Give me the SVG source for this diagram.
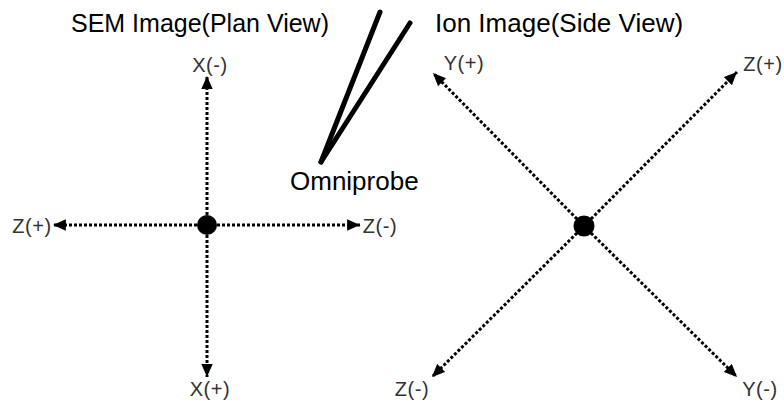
<svg xmlns="http://www.w3.org/2000/svg" width="784" height="404" viewBox="0 0 784 404">
<style>
.title{font-family:"Liberation Sans",Arial,sans-serif;font-size:25px;fill:#000}
.lbl{font-family:"Liberation Sans",Arial,sans-serif;font-size:20px;letter-spacing:0.6px;fill:#333}
.ax{stroke:#000;stroke-width:3;stroke-dasharray:3 2;fill:none}
.probe{stroke:#000;stroke-width:5;stroke-linecap:round;fill:none}
</style>
<defs>
<marker id="ah" viewBox="0 0 10 10" refX="10" refY="5" markerWidth="4.3" markerHeight="3.8" markerUnits="strokeWidth" orient="auto" preserveAspectRatio="none">
<path d="M0,0 L10,5 L0,10 Z" fill="#000"/>
</marker>
</defs>
<rect width="784" height="404" fill="#fff"/>
<g id="titles">
<text class="title" x="71" y="32">SEM Image(Plan View)</text>
<text class="title" x="435" y="32" style="font-size:26px">Ion Image(Side View)</text>
</g>
<g id="connectors">
<line class="ax" x1="207" y1="215" x2="207" y2="76" marker-end="url(#ah)"/>
<line class="ax" x1="207" y1="235" x2="207" y2="377" marker-end="url(#ah)"/>
<line class="ax" x1="197" y1="225" x2="53" y2="225" marker-end="url(#ah)"/>
<line class="ax" x1="217" y1="225" x2="360" y2="225" marker-end="url(#ah)"/>
<line class="ax" x1="577" y1="219" x2="433" y2="73" marker-end="url(#ah)"/>
<line class="ax" x1="591" y1="219" x2="737" y2="72" marker-end="url(#ah)"/>
<line class="ax" x1="577" y1="233" x2="432" y2="377" marker-end="url(#ah)"/>
<line class="ax" x1="591" y1="233" x2="737" y2="377" marker-end="url(#ah)"/>
</g>
<g id="sem-center"><circle cx="207" cy="225" r="10" fill="#000"/></g>
<g id="ion-center"><circle cx="584" cy="226" r="10.5" fill="#000"/></g>
<g id="sem-labels">
<text class="lbl" x="210" y="72" text-anchor="middle">X(-)</text>
<text class="lbl" x="210" y="396" text-anchor="middle">X(+)</text>
<text class="lbl" x="32" y="233" text-anchor="middle">Z(+)</text>
<text class="lbl" x="380" y="233" text-anchor="middle">Z(-)</text>
</g>
<g id="ion-labels">
<text class="lbl" x="464" y="70" text-anchor="middle">Y(+)</text>
<text class="lbl" x="763" y="71" text-anchor="middle">Z(+)</text>
<text class="lbl" x="412" y="396" text-anchor="middle">Z(-)</text>
<text class="lbl" x="760" y="396" text-anchor="middle">Y(-)</text>
</g>
<g id="omniprobe">
<line class="probe" x1="380" y1="12" x2="321" y2="162"/>
<line class="probe" x1="410" y1="23" x2="321" y2="162"/>
<text class="title" x="290" y="190" style="font-size:26px">Omniprobe</text>
</g>
</svg>
